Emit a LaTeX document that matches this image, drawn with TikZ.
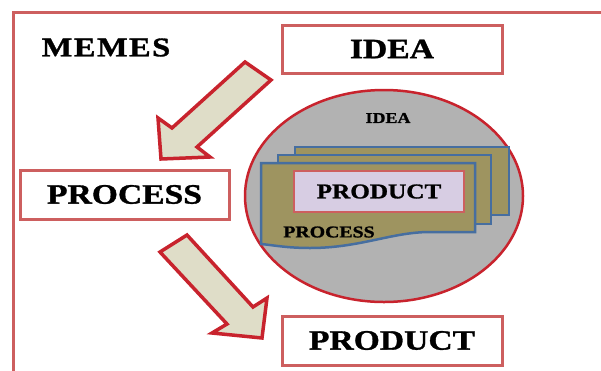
\documentclass[tikz,border=0pt]{standalone}
\usepackage{fontspec}
\newfontfamily\memefont[FakeStretch=1.2,FakeBold=1.2]{Liberation Serif}
\usetikzlibrary{shapes.geometric}
\definecolor{framered}{RGB}{205,95,95}
\definecolor{arrowred}{RGB}{200,35,45}
\definecolor{arrowfill}{RGB}{223,221,200}
\definecolor{ideagray}{RGB}{178,178,178}
\definecolor{sheetolive}{RGB}{158,148,96}
\definecolor{sheetblue}{RGB}{70,110,160}
\definecolor{lavender}{RGB}{215,205,227}
\begin{document}
\begin{tikzpicture}[x=1pt,y=-1pt,
  labelbox/.style={draw=framered, line width=3pt, fill=white, inner sep=0pt,
    font=\memefont\bfseries\fontsize{28}{30}\selectfont},
  blockarrow/.style={draw=arrowred, fill=arrowfill, line width=3.5pt, line join=miter},
  sheet/.style={draw=sheetblue, fill=sheetolive, line width=2.5pt, line join=miter},
  word/.style={inner sep=0pt, font=\memefont\bfseries}]
\useasboundingbox (0,0) rectangle (601,370);
\clip (0,0) rectangle (601,370);
\fill[white] (0,0) rectangle (601,370);
% outer frame, running off the right and bottom edges
\draw[framered, line width=3pt] (13,380) -- (13,12) -- (610,12);

% title
\node[word, font=\memefont\bfseries\fontsize{27}{30}\selectfont] (memes) at (106,47.5) {M\kern1.5ptE\kern1.5ptM\kern1.5ptE\kern1.5ptS};

% labelled boxes
\node[labelbox, minimum width=220pt, minimum height=48pt] (idea) at (392,49) {IDEA};
\node[labelbox, minimum width=209pt, minimum height=49pt] (process) at (124.5,194.5) {PROCESS};
\node[labelbox, minimum width=220pt, minimum height=49pt] (product) at (392,340.5) {PRODUCT};

% block arrows
\draw[blockarrow] (245,62) -- (271,80) -- (197,147) -- (210,157) -- (161,159)
  -- (158,118) -- (172,128) -- cycle;
\draw[blockarrow] (160,252) -- (187,235) -- (253,307) -- (267,298) -- (262,338)
  -- (212,333) -- (227,324) -- cycle;

% nested view: idea ellipse holding process sheets holding the product
\node[ellipse, draw=arrowred, fill=ideagray, line width=2.5pt, minimum width=278pt,
  minimum height=212pt, inner sep=0pt] (ideacloud) at (384,196) {};
\node[word, font=\memefont\bfseries\fontsize{15}{17}\selectfont] (ideasmall) at (388,118) {IDEA};
\draw[sheet] (295,147) rectangle (509,215);
\draw[sheet] (278,155) rectangle (491,224);
\draw[sheet] (261,163) -- (475,163) -- (475,232) -- (430,232)
  .. controls (392,232) and (360,248) .. (310,248)
  .. controls (287,248) and (272,245) .. (261,244) -- cycle;
\node[draw=framered, fill=lavender, line width=2.5pt, minimum width=170pt,
  minimum height=41pt, inner sep=0pt, font=\memefont\bfseries\fontsize{21}{23}\selectfont]
  (productsmall) at (379,191.5) {PRODUCT};
\node[word, font=\memefont\bfseries\fontsize{16.5}{18}\selectfont] (processsmall) at (329,232) {PROCESS};
\end{tikzpicture}
\end{document}
